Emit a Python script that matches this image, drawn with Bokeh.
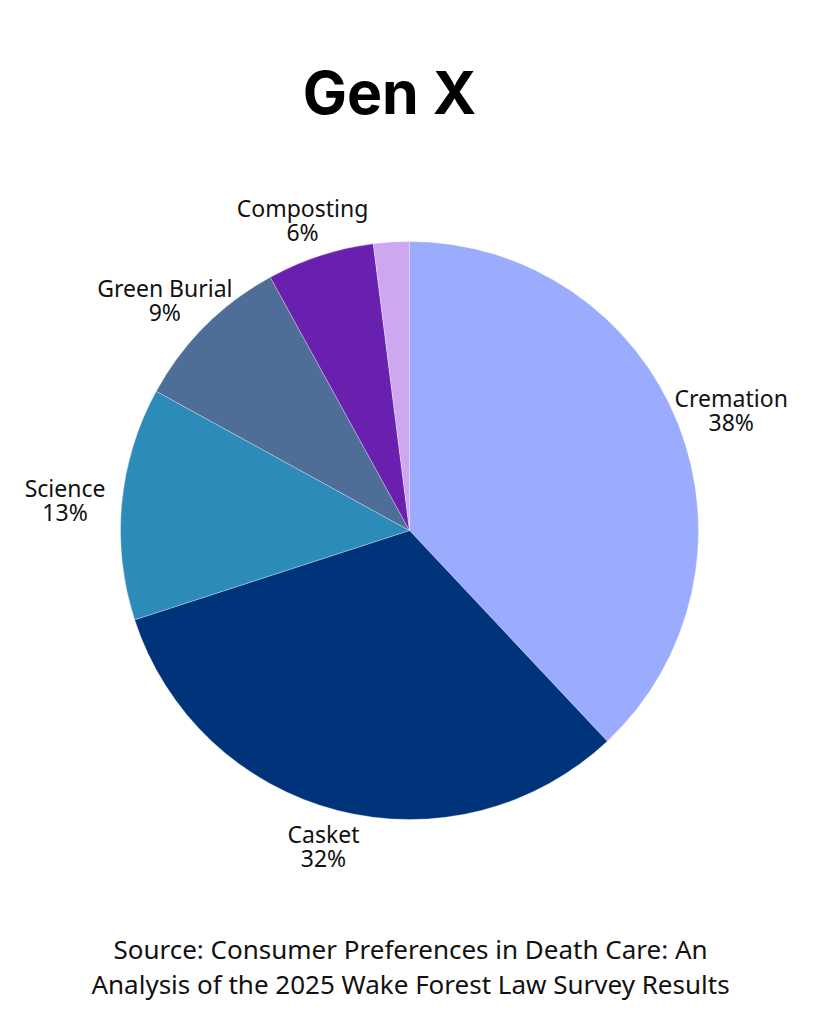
import numpy as np
from bokeh.plotting import figure
from bokeh.models import Range1d
from bokeh.core.properties import value
from bokeh.embed import file_html
from bokeh.resources import INLINE

title_text = "Gen X"
categories = ["Cremation", "Casket", "Science", "Green Burial", "Composting", "Other"]
percents = [38, 32, 13, 9, 6, 2]
show_label = [True, True, True, True, True, False]
colors = ["#9BACFF", "#00347A", "#2D8BB9", "#4F6E97", "#6A20AE", "#CDA8EF"]
source_lines = ["Source: Consumer Preferences in Death Care: An",
                "Analysis of the 2025 Wake Forest Law Survey Results"]

W, H = 803, 1000
cx, cy, r = 409, 1000 - 530, 289
label_rx, label_ry = 346, 326

p = figure(width=W, height=H, x_range=Range1d(0, W), y_range=Range1d(0, H),
           output_backend="svg", toolbar_location=None, min_border=0)
p.axis.visible = False
p.grid.visible = False
p.outline_line_color = None
p.background_fill_color = "white"
p.border_fill_color = "white"

frac = np.array(percents, dtype=float) / sum(percents)
cum_end = np.cumsum(frac)
cum_start = cum_end - frac
start_angle = np.pi / 2 - cum_end * 2 * np.pi
end_angle = np.pi / 2 - cum_start * 2 * np.pi

p.wedge(x=cx, y=cy, radius=r, start_angle=start_angle, end_angle=end_angle,
        fill_color=colors, line_color="white", line_width=0.3)

mid = (start_angle + end_angle) / 2
lx, ly, names, pcts = [], [], [], []
for i, c in enumerate(categories):
    if not show_label[i]:
        continue
    lx.append(cx + label_rx * np.cos(mid[i]))
    ly.append(cy + label_ry * np.sin(mid[i]))
    names.append(c)
    pcts.append(f"{percents[i]}%")
ly = np.array(ly)
common = dict(text_align="center", text_baseline="middle", text_font=value("Noto Sans"),
              text_font_size="23px", text_color="#111111")
p.text(x=lx, y=ly + 12, text=names, **common)
p.text(x=lx, y=ly - 12, text=pcts, **common)

p.text(x=[389], y=[H - 92], text=[title_text], text_align="center",
       text_baseline="middle", text_font=value("Inter"), text_font_style="bold",
       text_font_size="59px", text_color="#000000")

p.text(x=[410, 410], y=[H - 948, H - 983], text=source_lines, text_align="center",
       text_baseline="middle", text_font=value("Noto Sans"), text_font_size="26px",
       text_color="#111111")

open("out.html", "w").write(file_html(p, INLINE))
